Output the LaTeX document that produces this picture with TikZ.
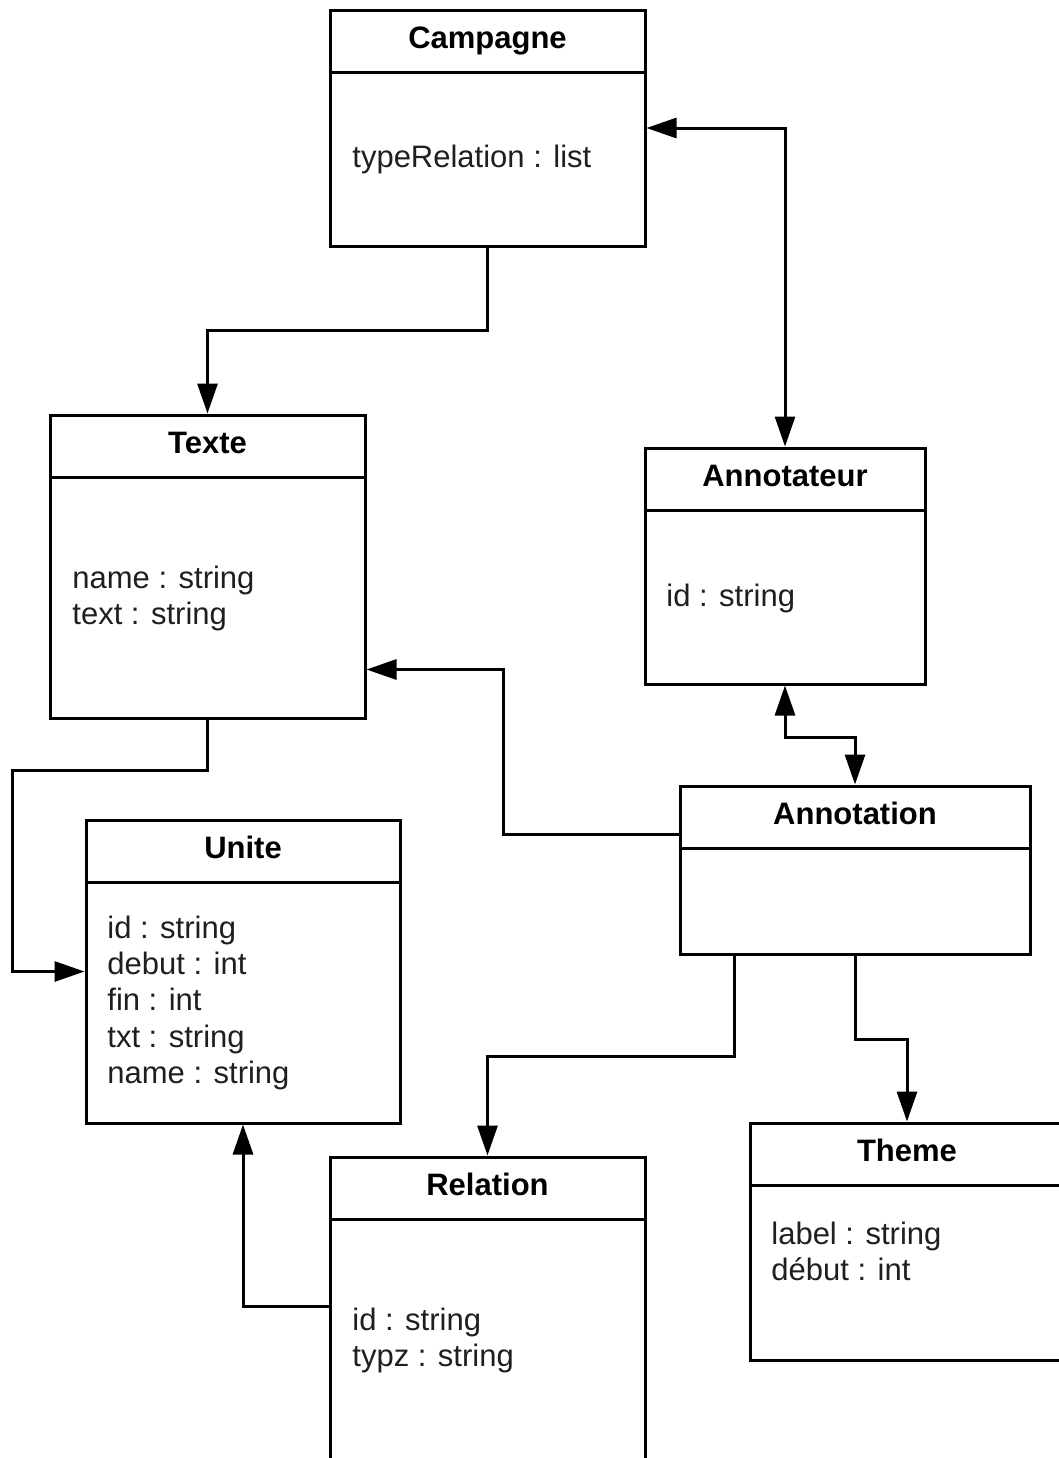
\documentclass[tikz,border=0pt]{standalone}
\usepackage{fontspec}
\setmainfont{Liberation Sans}
\usetikzlibrary{arrows.meta,calc}
\tikzset{
  cls/.style={draw, line width=1.5pt, inner sep=0pt, fill=white},
  hdr/.style={line width=1.5pt},
  ttl/.style={font=\bfseries\fontsize{15.5}{18}\selectfont, anchor=base, inner sep=0pt},
  att/.style={font=\fontsize{15.5}{18}\selectfont, anchor=base west, inner sep=0pt, text=black!88},
  tip/.tip={Triangle[length=15pt,width=10pt]},
  conn/.style={line width=1.5pt, -tip},
  bi/.style={line width=1.5pt, tip-tip},
}
\begin{document}
\begin{tikzpicture}[x=0.5pt,y=-0.5pt]
\useasboundingbox (0,0) rectangle (1059,1458);
\clip (0,0) rectangle (1059,1458);
\fill[white] (0,0) rectangle (1059,1458);

% class boxes
\node[cls, minimum width=157.5pt, minimum height=118pt]   (campagne)   at (487.5,128) {};
\node[cls, minimum width=157.5pt, minimum height=151.5pt] (texte)      at (207.5,566.5) {};
\node[cls, minimum width=140pt,   minimum height=118pt]   (annotateur) at (785,566) {};
\node[cls, minimum width=175pt,   minimum height=84pt]    (annotation) at (855,870) {};
\node[cls, minimum width=157pt,   minimum height=151.5pt] (unite)      at (243,971.5) {};
\node[cls, minimum width=157.5pt, minimum height=155pt]   (relation)   at (487.5,1312) {};
\node[cls, minimum width=157pt,   minimum height=118.5pt] (theme)      at (907,1241.5) {};

% header separators
\foreach \b in {campagne,texte,annotateur,annotation,unite,relation,theme}{
  \draw[hdr] ($(\b.north west)+(0,64)$) -- ($(\b.north east)+(0,64)$);
}

% titles
\node[ttl] (tCampagne)   at ($(campagne.north)+(0,40)$)   {Campagne};
\node[ttl] (tTexte)      at ($(texte.north)+(0,40)$)      {Texte};
\node[ttl] (tAnnotateur) at ($(annotateur.north)+(0,40)$) {Annotateur};
\node[ttl] (tAnnotation) at ($(annotation.north)+(0,40)$) {Annotation};
\node[ttl] (tUnite)      at ($(unite.north)+(0,40)$)      {Unite};
\node[ttl] (tRelation)   at ($(relation.north)+(0,40)$)   {Relation};
\node[ttl] (tTheme)      at ($(theme.north)+(0,40)$)      {Theme};

% attributes
\node[att] (aC1) at (352,167) {typeRelation : list};
\node[att] (aT1) at (72,588) {name : string};
\node[att] (aT2) at (72,624) {text : string};
\node[att] (aA1) at (666,606) {id : string};
\node[att] (aU1) at (107,938) {id : string};
\node[att] (aU2) at (107,974) {debut : int};
\node[att] (aU3) at (107,1010) {fin : int};
\node[att] (aU4) at (107,1047) {txt : string};
\node[att] (aU5) at (107,1083) {name : string};
\node[att] (aR1) at (352,1330) {id : string};
\node[att] (aR2) at (352,1366) {typz : string};
\node[att] (aH1) at (771,1244) {label : string};
\node[att] (aH2) at (771,1280) {début : int};

% connectors
\draw[conn] (campagne.south) -- ++(0,83) -| (texte.north);
\draw[bi] (annotateur.north) |- (campagne.east);
\draw[conn] ($(annotation.north west)+(0,50)$) -- ++(-175,0) |- ($(texte.south east)+(0,-50)$);
\draw[conn] (texte.south) -- ++(0,51) -- ++(-195.5,0) |- (unite.west);
\draw[bi] (annotateur.south) -- ++(0,52) -| (annotation.north);
\draw[conn] ($(annotation.south west)+(56,0)$) -- ++(0,101) -| (relation.north);
\draw[conn] (annotation.south) -- ++(0,84) -| (theme.north);
\draw[conn] ($(relation.north west)+(0,151)$) -| (unite.south);
\end{tikzpicture}
\end{document}
